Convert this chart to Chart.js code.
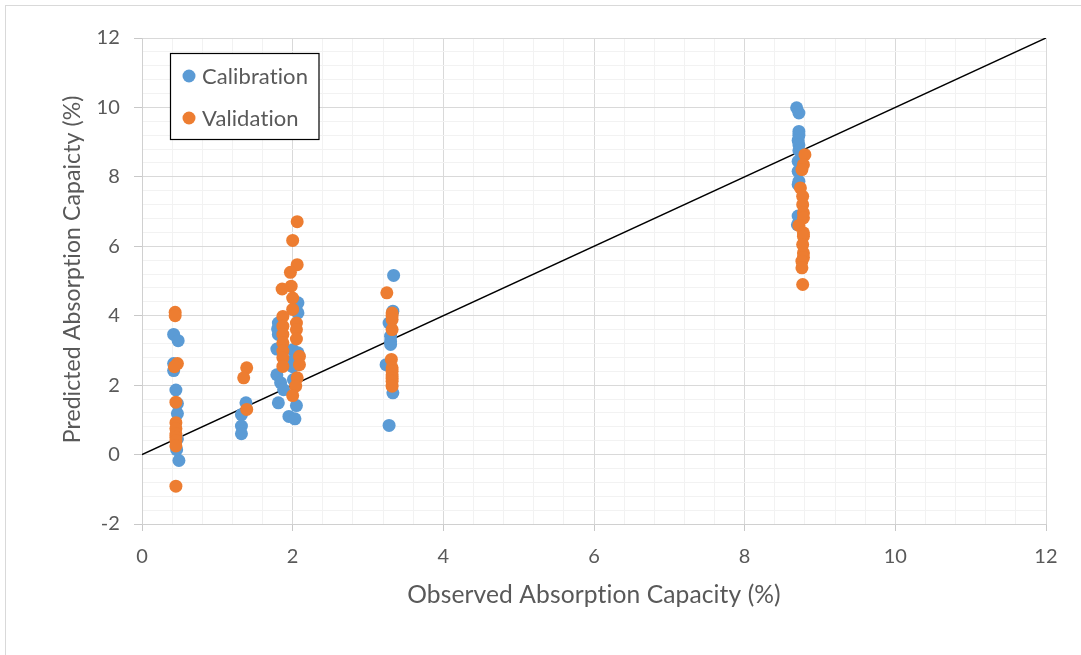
<!DOCTYPE html>
<html>
<head>
<meta charset="utf-8">
<script src="https://cdn.jsdelivr.net/npm/chart.js@4"></script>
<style>
  html, body { margin: 0; padding: 0; background: #ffffff; }
  canvas { display: block; }
</style>
</head>
<body>
<canvas id="chart" width="1081" height="655"></canvas>
<script>
// Observed vs predicted absorption capacity (%)
const seriesNames = ['Calibration', 'Validation'];

const calibrationObserved = [
  0.42, 0.48, 0.42, 0.42, 0.45, 0.47, 0.47, 0.47, 0.46, 0.49,
  1.32, 1.32, 1.32, 1.38,
  2.07, 2.07, 1.81, 1.80, 1.81, 1.79, 2.00, 2.07, 2.01, 2.00, 1.79, 1.84, 1.88, 2.01, 1.81, 2.05, 1.95, 2.03,
  3.34, 3.33, 3.28, 3.30, 3.30, 3.30, 3.24, 3.33, 3.28,
  8.69, 8.72, 8.72, 8.72, 8.71, 8.72, 8.72, 8.71, 8.71, 8.72, 8.71, 8.71, 8.70
];
const calibrationPredicted = [
  3.46, 3.28, 2.62, 2.42, 1.86, 1.47, 1.18, 0.45, 0.14, -0.17,
  1.15, 0.82, 0.60, 1.49,
  4.37, 4.08, 3.79, 3.62, 3.46, 3.04, 3.02, 2.93, 2.72, 2.53, 2.30, 2.07, 1.87, 2.16, 1.49, 1.41, 1.10, 1.03,
  5.16, 4.13, 3.79, 3.41, 3.26, 3.17, 2.59, 1.78, 0.84,
  9.99, 9.84, 9.31, 9.20, 9.05, 8.92, 8.76, 8.45, 8.16, 7.87, 7.78, 6.87, 6.62
];

const validationObserved = [
  0.44, 0.44, 0.47, 0.43, 0.45, 0.45, 0.45, 0.45, 0.45, 0.45, 0.45, 0.45,
  1.39, 1.35, 1.39,
  2.06, 2.00, 2.06, 1.97, 1.98, 1.86, 2.00, 2.00, 1.87, 2.05, 1.87, 2.05, 1.87, 2.05, 1.87, 1.87, 2.09, 1.87, 2.09, 1.87, 2.06, 2.04, 2.00,
  3.25, 3.32, 3.32, 3.32, 3.32, 3.31, 3.32, 3.32, 3.32, 3.32, 3.32, 3.32,
  8.80, 8.78, 8.76, 8.74, 8.77, 8.77, 8.78, 8.78, 8.72, 8.78, 8.78, 8.77, 8.78, 8.78, 8.76, 8.76, 8.77
];
const validationPredicted = [
  4.10, 4.00, 2.62, 2.53, 1.51, 0.92, 0.75, 0.60, 0.50, 0.40, 0.25, -0.91,
  2.50, 2.21, 1.30,
  6.71, 6.17, 5.47, 5.25, 4.85, 4.77, 4.51, 4.18, 3.98, 3.79, 3.70, 3.60, 3.46, 3.33, 3.22, 2.98, 2.83, 2.79, 2.59, 2.54, 2.21, 1.97, 1.70,
  4.66, 4.08, 4.00, 3.89, 3.60, 2.74, 2.50, 2.40, 2.30, 2.20, 2.11, 1.97,
  8.64, 8.35, 8.21, 7.68, 7.44, 7.20, 6.96, 6.82, 6.60, 6.39, 6.29, 6.05, 5.81, 5.68, 5.57, 5.38, 4.90
];

// 1:1 reference line
const identityLine = [0, 12];

const xTitle = 'Observed Absorption Capacity (%)';
// leading en spaces nudge the rotated title a little towards the top
const yTitle = '\u2002\u2002Predicted Absorption Capaicty (%)';

const toPoints = (xs, ys) => xs.map((x, i) => ({ x: x, y: ys[i] }));

const COLORS = { blue: '#5B9BD5', orange: '#ED7D31' };
const TEXT = '#595959';
const FONT = 'Lato, "Open Sans", sans-serif';

const isMajor = v => Math.abs(v / 2 - Math.round(v / 2)) < 1e-6;

function axis(min, max, tickLen, titleText, titleSize, titlePad, fitSize) {
  return {
    type: 'linear',
    min: min,
    max: max,
    border: { display: true, color: '#d0d0d0', width: 1 },
    grid: {
      color: ctx => isMajor(ctx.tick.value) ? '#d9d9d9' : '#f2f2f2',
      tickColor: ctx => isMajor(ctx.tick.value) ? '#c8c8c8' : 'rgba(0,0,0,0)',
      lineWidth: 1,
      tickLength: tickLen,
      drawTicks: true
    },
    ticks: {
      stepSize: 0.4,
      autoSkip: false,
      maxTicksLimit: 100,
      maxRotation: 0,
      padding: 14,
      color: TEXT,
      font: { family: FONT, size: 20 },
      callback: v => isMajor(v) ? String(Math.round(v)) : ''
    },
    title: {
      display: true,
      text: titleText,
      color: TEXT,
      font: { family: FONT, size: titleSize },
      padding: titlePad
    },
    afterFit: fitSize
  };
}

// plain glyphs, no "ti"/"fi" ligatures
const plainText = {
  id: 'plainText',
  beforeDraw(chart) {
    const ctx = chart.ctx;
    if ('textRendering' in ctx) ctx.textRendering = 'optimizeSpeed';
    if ('letterSpacing' in ctx) ctx.letterSpacing = '0.1px';
  }
};

const legendBox = {
  id: 'legendBox',
  afterDraw(chart) {
    const ctx = chart.ctx;
    const cal = chart.data.datasets[0];
    const val = chart.data.datasets[1];
    ctx.save();
    ctx.fillStyle = '#ffffff';
    ctx.fillRect(170.5, 53.5, 148.5, 86);
    ctx.strokeStyle = '#000000';
    ctx.lineWidth = 1.2;
    ctx.strokeRect(170.5, 53.5, 148.5, 86);
    const items = [[cal, 76], [val, 118]];
    ctx.font = '22px ' + FONT;
    ctx.textBaseline = 'middle';
    ctx.textAlign = 'left';
    items.forEach(([ds, y]) => {
      ctx.beginPath();
      ctx.fillStyle = ds.backgroundColor;
      ctx.arc(189, y, 6.5, 0, Math.PI * 2);
      ctx.fill();
      ctx.fillStyle = TEXT;
      ctx.fillText(ds.label, 202, y + 1);
    });
    ctx.restore();
  }
};

const frame = {
  id: 'frame',
  beforeDraw(chart) {
    const ctx = chart.ctx;
    ctx.save();
    ctx.fillStyle = '#ffffff';
    ctx.fillRect(0, 0, chart.width, chart.height);
    ctx.strokeStyle = '#d9d9d9';
    ctx.lineWidth = 1;
    ctx.strokeRect(5.5, 5.5, chart.width + 20, chart.height + 20);
    ctx.restore();
  }
};

new Chart(document.getElementById('chart'), {
  type: 'scatter',
  data: {
    datasets: [
      {
        label: seriesNames[0],
        data: toPoints(calibrationObserved, calibrationPredicted),
        backgroundColor: COLORS.blue,
        borderWidth: 0,
        pointRadius: 6.5,
        order: 1
      },
      {
        label: seriesNames[1],
        data: toPoints(validationObserved, validationPredicted),
        backgroundColor: COLORS.orange,
        borderWidth: 0,
        pointRadius: 6.5,
        order: 0
      },
      {
        label: '1:1',
        type: 'line',
        data: toPoints(identityLine, identityLine),
        borderColor: '#000000',
        borderWidth: 1.5,
        pointRadius: 0,
        fill: false,
        order: 2
      }
    ]
  },
  options: {
    responsive: false,
    animation: false,
    devicePixelRatio: 1,
    events: [],
    layout: { padding: { left: 0, right: 35, top: 38, bottom: 0 } },
    plugins: {
      legend: { display: false },
      tooltip: { enabled: false }
    },
    scales: {
      x: axis(0, 12, 7, xTitle, 24.6, { top: 0, bottom: 45 }, s => { s.height = 131; }),
      y: axis(-2, 12, 8, yTitle, 23, { top: 59, bottom: 0 }, s => { s.width = 142; })
    }
  },
  plugins: [plainText, frame, legendBox]
});
</script>
</body>
</html>
